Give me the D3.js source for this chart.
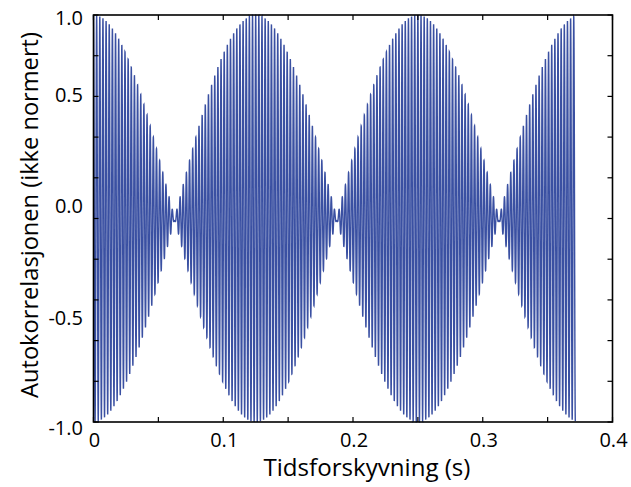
<!DOCTYPE html>
<html>
<head>
<meta charset="utf-8">
<script src="https://cdn.jsdelivr.net/npm/d3@7"></script>
<style>
  html, body { margin: 0; padding: 0; background: #fff; }
  svg { display: block; }
  text { font-family: "Open Sans", "Noto Sans", sans-serif; fill: #000; }
</style>
</head>
<body>
<svg id="chart" width="631" height="487"></svg>
<script>
// ---- values ----
const toneFreqsHz = [408, 416];      // two tones: beat period 0.125 s, carrier ~412 Hz
const toneAmps = [0.505, 0.495];     // near-equal amplitudes (small residual at the nodes)
const lagRangeS = [0, 0.37136];      // lags plotted (ends on a trough)
const sampleRateHz = 44100;          // lag step of the computed autocorrelation
const xTickValues = [0, 0.1, 0.2, 0.3, 0.4];
const xTickLabels = ["0", "0.1", "0.2", "0.3", "0.4"];
const xMinorTicks = [0, 0.05, 0.1, 0.15, 0.2, 0.25, 0.3, 0.35, 0.4];
const yTickLabels = ["1.0", "0.5", "0.0", "-0.5", "-1.0"];
const yTickValues = [1.0, 0.5, 0.0, -0.5, -1.0];
const yMinorTicks = [-1, -0.8, -0.6, -0.4, -0.2, 0, 0.2, 0.4, 0.6, 0.8, 1];
const xTitle = "Tidsforskyvning (s)";
const yTitle = "Autokorrelasjonen (ikke normert)";

// autocorrelation of a sum of two sinusoids
const nSamples = Math.round((lagRangeS[1] - lagRangeS[0]) * sampleRateHz) + 1;
const lags = d3.range(nSamples).map(i => lagRangeS[0] + i / sampleRateHz);
const series = lags.map(t => ({
  t,
  r: toneFreqsHz.reduce((s, f, k) => s + toneAmps[k] * Math.cos(2 * Math.PI * f * t), 0)
}));

// ---- layout ----
const svg = d3.select("#chart");
const L = 93.5, R = 612.5, T = 15, B = 422;
const x = d3.scaleLinear().domain([0, 0.4]).range([L, R]);
const y = d3.scaleLinear().domain([-1, 1]).range([B, T]);

const line = d3.line().x(d => x(d.t)).y(d => y(d.r));
svg.append("path")
  .datum(series)
  .attr("d", line)
  .attr("fill", "none")
  .attr("stroke", "#3a50a2")
  .attr("stroke-width", 1.4);

// inward ticks
const tickLen = 5;
const ticks = svg.append("g").attr("stroke", "#000").attr("stroke-width", 1.2);
xMinorTicks.forEach(v => {
  ticks.append("line").attr("x1", x(v)).attr("x2", x(v)).attr("y1", B).attr("y2", B - tickLen);
  ticks.append("line").attr("x1", x(v)).attr("x2", x(v)).attr("y1", T).attr("y2", T + tickLen);
});
yMinorTicks.forEach(v => {
  ticks.append("line").attr("x1", L).attr("x2", L + tickLen).attr("y1", y(v)).attr("y2", y(v));
  ticks.append("line").attr("x1", R).attr("x2", R - tickLen).attr("y1", y(v)).attr("y2", y(v));
});

// frame
svg.append("rect")
  .attr("x", L).attr("y", T).attr("width", R - L).attr("height", B - T)
  .attr("fill", "none").attr("stroke", "#000").attr("stroke-width", 1.6);

// x tick labels
svg.append("g").selectAll("text").data(xTickValues).join("text")
  .attr("x", d => x(d) + 1)
  .attr("y", 440)
  .attr("dy", "0.35em")
  .attr("text-anchor", "middle")
  .attr("font-size", 20)
  .text((d, i) => xTickLabels[i]);

// y tick labels (placed as in the reference, slightly off the tick marks)
const yLabelShift = [3, -22, -12.5, -2, 6];
svg.append("g").selectAll("text").data(yTickValues).join("text")
  .attr("x", 83)
  .attr("y", (d, i) => y(d) + yLabelShift[i])
  .attr("dy", "0.35em")
  .attr("text-anchor", "end")
  .attr("font-size", 20)
  .text((d, i) => yTickLabels[i]);

// axis titles, fitted to the reference widths
function fit(sel, target) {
  const w = sel.node().getComputedTextLength();
  const fs = parseFloat(sel.attr("font-size"));
  sel.attr("font-size", fs * target / w);
}
const xt = svg.append("text")
  .attr("x", 367).attr("y", 468).attr("dy", "0.35em")
  .attr("text-anchor", "middle").attr("font-size", 20).text(xTitle);
fit(xt, 207);

const yt = svg.append("text")
  .attr("transform", "translate(30,215) rotate(-90)")
  .attr("dy", "0.35em")
  .attr("text-anchor", "middle").attr("font-size", 20).text(yTitle);
fit(yt, 366);
</script>
</body>
</html>
